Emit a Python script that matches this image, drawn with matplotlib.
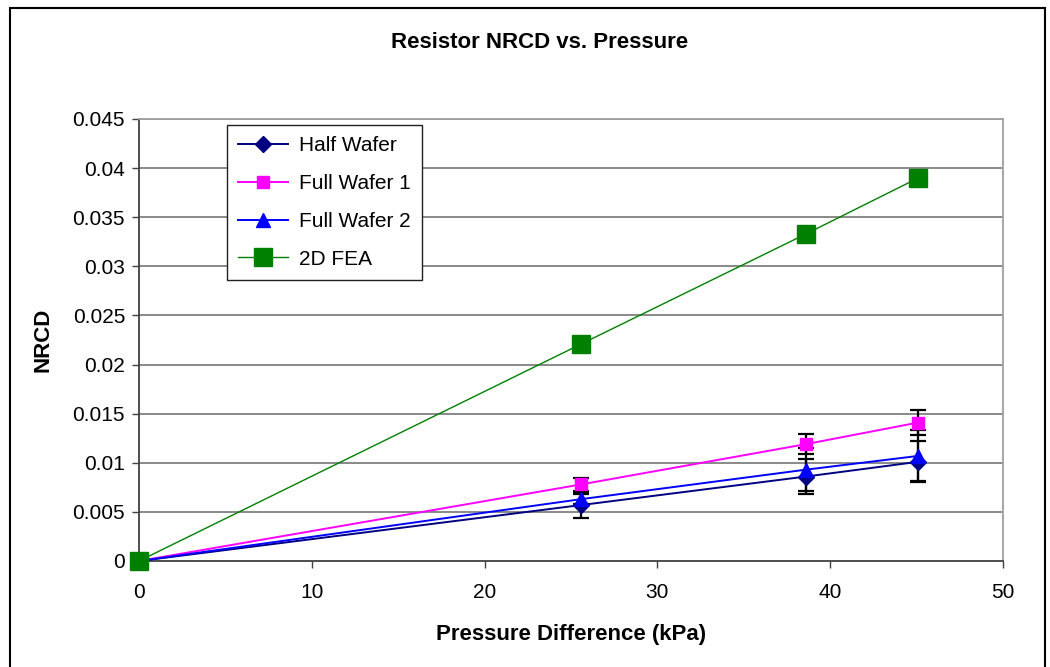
import matplotlib
matplotlib.use("Agg")
import matplotlib.pyplot as plt
from matplotlib.patches import Rectangle
from matplotlib.lines import Line2D

plt.rcParams['font.family'] = ['Liberation Sans', 'DejaVu Sans']

# Data
pressure = [0, 25.6, 38.6, 45.1]
half_wafer = [0, 0.0057, 0.0086, 0.0101]
half_wafer_err = [0, 0.0013, 0.0018, 0.0021]
full_wafer1 = [0, 0.0078, 0.0119, 0.0141]
full_wafer1_err = [0, 0.0007, 0.0010, 0.0013]
full_wafer2 = [0, 0.0063, 0.0093, 0.0107]
full_wafer2_err = [0, 0.0005, 0.0022, 0.0026]
fea_2d = [0, 0.0221, 0.0333, 0.0390]

x_ticks = [0, 10, 20, 30, 40, 50]
y_ticks = [0, 0.005, 0.01, 0.015, 0.02, 0.025, 0.03, 0.035, 0.04, 0.045]
y_tick_labels = ["0", "0.005", "0.01", "0.015", "0.02", "0.025", "0.03", "0.035", "0.04", "0.045"]

W, H = 1050, 667
fig = plt.figure(figsize=(W / 100, H / 100), dpi=100)
fig.patch.set_facecolor('white')

# plot area in pixel coordinates
left, right, top, bottom = 139, 1003, 119, 561
ax = fig.add_axes([left / W, 1 - bottom / H, (right - left) / W, (bottom - top) / H])

# outer chart border
fig.patches.append(Rectangle((10 / W, -0.05), (1045 - 10) / W, 1.05 - 8 / H,
                             transform=fig.transFigure, fill=False,
                             edgecolor='black', linewidth=1.5))

ax.set_xlim(0, 50)
ax.set_ylim(0, 0.045)
ax.set_xticks(x_ticks)
ax.set_yticks(y_ticks)
ax.set_yticklabels(y_tick_labels)

for y in y_ticks[1:]:
    ax.axhline(y, color='#808080', linewidth=1.3, zorder=0)

for s in ['top', 'right']:
    ax.spines[s].set_color('#a0a0a0')
    ax.spines[s].set_linewidth(1.3)
for s in ['left', 'bottom']:
    ax.spines[s].set_color('#404040')
    ax.spines[s].set_linewidth(1.3)

ax.tick_params(axis='both', direction='out', length=5, width=1, color='#404040',
               labelsize=15, labelcolor='black')
ax.tick_params(axis='y', pad=5)
ax.tick_params(axis='x', pad=11)

# error bars sit behind the series markers
ebkw = dict(fmt='none', ecolor='black', elinewidth=1.6, capsize=5.5, capthick=1.6, zorder=2)
ax.errorbar(pressure, half_wafer, yerr=half_wafer_err, **ebkw)
ax.errorbar(pressure, full_wafer1, yerr=full_wafer1_err, **ebkw)
ax.errorbar(pressure, full_wafer2, yerr=full_wafer2_err, **ebkw)

series = [
    ('Half Wafer', half_wafer, '#000080', 'D', 8.5, 1.4),
    ('Full Wafer 1', full_wafer1, '#FF00FF', 's', 9, 1.4),
    ('Full Wafer 2', full_wafer2, '#0000FF', '^', 10, 1.4),
    ('2D FEA', fea_2d, '#008000', 's', 13, 1.0),
]
handles = []
for name, vals, col, mk, ms, lw in series:
    ax.plot(pressure, vals, color=col, marker=mk, markersize=ms, linewidth=lw,
            zorder=3, clip_on=False)
    handles.append(Line2D([], [], color=col, marker=mk, markersize=ms, linewidth=lw,
                          label=name))

leg = ax.legend(handles=handles, loc='upper left',
                bbox_to_anchor=((227 - left) / (right - left), 1 - (125 - top) / (bottom - top)),
                fontsize=15, frameon=True, fancybox=False, framealpha=1,
                edgecolor='#202020', borderpad=0.55, labelspacing=0.9,
                handlelength=2.4, handletextpad=0.5, borderaxespad=0)
leg.get_frame().set_linewidth(1.0)
leg.set_zorder(5)

ax.set_xlabel('Pressure Difference (kPa)', fontsize=16, fontweight='bold', labelpad=16)
ax.set_ylabel('NRCD', fontsize=16, fontweight='bold', labelpad=14)
fig.text(540 / W, 1 - 42 / H, 'Resistor NRCD vs. Pressure', ha='center', va='center',
         fontsize=16, fontweight='bold')

fig.savefig('out.png', dpi=100)
